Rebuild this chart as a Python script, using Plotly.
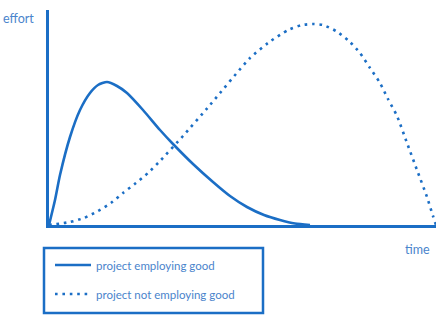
import plotly.graph_objects as go

# Data (time / effort in arbitrary units)
good_time = [0, 6, 11, 21, 31, 41, 49, 58, 68, 78, 94, 111, 124, 144, 164, 181, 198, 215, 231, 246, 261]
good_effort = [0, 25, 50, 88, 115, 132, 140, 143, 139, 132, 115, 95, 81, 61, 43, 29, 18, 10, 5, 1.5, 0]

notgood_time = [0, 21, 35, 49, 62, 74, 87, 99, 111, 134, 161, 201, 219, 239, 253, 264, 274,
                287, 300, 311, 321, 331, 339, 348, 358, 368, 378, 384, 387]
notgood_effort = [0, 3, 7, 14, 22, 32, 42, 52, 64, 89, 120, 167, 182, 195, 200, 201, 200,
                  194, 184, 172, 157, 142, 126, 109, 82, 55, 28, 9, 0]

series_names = ["project employing good", "project not employing good"]
axis_titles = ["effort", "time"]

BLUE = "#1b6ec5"
TEXT = "#4a84cc"
FONT = "Lato"

fig = go.Figure()
fig.add_trace(go.Scatter(
    x=good_time, y=good_effort, mode="lines", name=series_names[0],
    line=dict(color=BLUE, width=2.6, shape="spline", smoothing=0.6),
    legendgroup="a"))
fig.add_trace(go.Scatter(
    x=notgood_time, y=notgood_effort, mode="lines", name=series_names[1],
    line=dict(color=BLUE, width=2.6, shape="spline", smoothing=0.6, dash="2.6px,4.8px"),
    legendgroup="b"))

W, H = 440, 324
L, R, T, B = 49, 4, 10, 99
pw, ph = W - L - R, H - T - B

def px_x(p):
    return (p - L) / pw

def px_y(p):
    return (H - B - p) / ph

fig.update_layout(
    width=W, height=H,
    margin=dict(l=L, r=R, t=T, b=B, pad=0),
    paper_bgcolor="white", plot_bgcolor="white",
    font=dict(family=FONT, color=TEXT, size=11),
    xaxis=dict(range=[0, 387], showgrid=False, zeroline=False, showticklabels=False,
               ticks="", showline=True, linecolor=BLUE, linewidth=3),
    yaxis=dict(range=[0, 215], showgrid=False, zeroline=False, showticklabels=False,
               ticks="", showline=True, linecolor=BLUE, linewidth=3),
    showlegend=True,
    legend=dict(x=px_x(50), y=px_y(250.5), xanchor="left", yanchor="top",
                bgcolor="rgba(0,0,0,0)", borderwidth=0, itemwidth=36,
                tracegroupgap=10, font=dict(family=FONT, color=TEXT, size=11.5)),
    shapes=[dict(type="rect", xref="paper", yref="paper",
                 x0=px_x(44), x1=px_x(263), y0=px_y(313), y1=px_y(248),
                 line=dict(color=BLUE, width=2.5), fillcolor="rgba(0,0,0,0)")],
    annotations=[
        dict(text=axis_titles[0], xref="paper", yref="paper", x=px_x(18), y=px_y(19),
             xanchor="center", yanchor="middle", showarrow=False,
             font=dict(family=FONT, color=TEXT, size=12.5)),
        dict(text=axis_titles[1], xref="paper", yref="paper", x=px_x(417), y=px_y(249),
             xanchor="center", yanchor="middle", showarrow=False,
             font=dict(family=FONT, color=TEXT, size=12.5)),
    ],
)

fig.write_html("out.html")
